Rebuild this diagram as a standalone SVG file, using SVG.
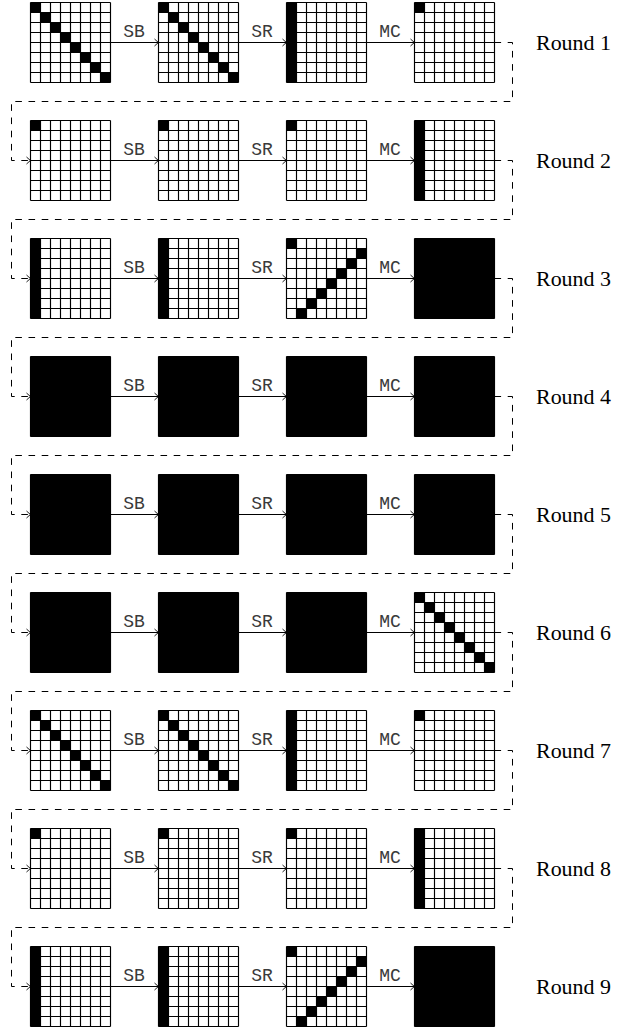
<svg xmlns="http://www.w3.org/2000/svg" xmlns:xlink="http://www.w3.org/1999/xlink" width="627" height="1027" viewBox="0 0 627 1027">
<style>
.gl{fill:none;stroke:#000;stroke-width:1.15}
.f{fill:#000}
.c{fill:none;stroke:#000;stroke-width:1}
.d{stroke-dasharray:6.6 6.6}
.op{font-family:"Liberation Mono","DejaVu Sans Mono",monospace;font-size:18px;fill:#3a3a3a;text-anchor:middle}
.rd{font-family:"Liberation Serif","DejaVu Serif",serif;font-size:20px;fill:#000}
</style>
<defs>
<path id="grid" class="gl" d="M0 0H80M0 10H80M0 20H80M0 30H80M0 40H80M0 50H80M0 60H80M0 70H80M0 80H80M0 0V80M10 0V80M20 0V80M30 0V80M40 0V80M50 0V80M60 0V80M70 0V80M80 0V80"/>
<g id="diag" class="f"><rect x="0" y="0" width="10" height="10"/><rect x="10" y="10" width="10" height="10"/><rect x="20" y="20" width="10" height="10"/><rect x="30" y="30" width="10" height="10"/><rect x="40" y="40" width="10" height="10"/><rect x="50" y="50" width="10" height="10"/><rect x="60" y="60" width="10" height="10"/><rect x="70" y="70" width="10" height="10"/></g>
<g id="anti" class="f"><rect x="0" y="0" width="10" height="10"/><rect x="70" y="10" width="10" height="10"/><rect x="60" y="20" width="10" height="10"/><rect x="50" y="30" width="10" height="10"/><rect x="40" y="40" width="10" height="10"/><rect x="30" y="50" width="10" height="10"/><rect x="20" y="60" width="10" height="10"/><rect x="10" y="70" width="10" height="10"/></g>
<rect id="col" class="f" width="10" height="80"/>
<rect id="cell" class="f" width="10" height="10"/>
<rect id="full" class="f" width="80" height="80"/>
<marker id="ah" markerWidth="9" markerHeight="10" refX="7" refY="5" orient="auto" markerUnits="userSpaceOnUse"><path d="M3,1.5 Q6,4.3 7,5 Q6,5.7 3,8.5" fill="none" stroke="#000" stroke-width="0.9"/></marker>
</defs>

<g id="row1">
<g id="r1g1" transform="translate(30.5,2.5)"><use xlink:href="#diag"/><use xlink:href="#grid"/></g>
<g id="r1g2" transform="translate(158.5,2.5)"><use xlink:href="#diag"/><use xlink:href="#grid"/></g>
<g id="r1g3" transform="translate(286.5,2.5)"><use xlink:href="#col"/><use xlink:href="#grid"/></g>
<g id="r1g4" transform="translate(414.5,2.5)"><use xlink:href="#cell"/><use xlink:href="#grid"/></g>
</g>
<g id="row2">
<g id="r2g1" transform="translate(30.5,120.5)"><use xlink:href="#cell"/><use xlink:href="#grid"/></g>
<g id="r2g2" transform="translate(158.5,120.5)"><use xlink:href="#cell"/><use xlink:href="#grid"/></g>
<g id="r2g3" transform="translate(286.5,120.5)"><use xlink:href="#cell"/><use xlink:href="#grid"/></g>
<g id="r2g4" transform="translate(414.5,120.5)"><use xlink:href="#col"/><use xlink:href="#grid"/></g>
</g>
<g id="row3">
<g id="r3g1" transform="translate(30.5,238.5)"><use xlink:href="#col"/><use xlink:href="#grid"/></g>
<g id="r3g2" transform="translate(158.5,238.5)"><use xlink:href="#col"/><use xlink:href="#grid"/></g>
<g id="r3g3" transform="translate(286.5,238.5)"><use xlink:href="#anti"/><use xlink:href="#grid"/></g>
<g id="r3g4" transform="translate(414.5,238.5)"><use xlink:href="#full"/><use xlink:href="#grid"/></g>
</g>
<g id="row4">
<g id="r4g1" transform="translate(30.5,356.5)"><use xlink:href="#full"/><use xlink:href="#grid"/></g>
<g id="r4g2" transform="translate(158.5,356.5)"><use xlink:href="#full"/><use xlink:href="#grid"/></g>
<g id="r4g3" transform="translate(286.5,356.5)"><use xlink:href="#full"/><use xlink:href="#grid"/></g>
<g id="r4g4" transform="translate(414.5,356.5)"><use xlink:href="#full"/><use xlink:href="#grid"/></g>
</g>
<g id="row5">
<g id="r5g1" transform="translate(30.5,474.5)"><use xlink:href="#full"/><use xlink:href="#grid"/></g>
<g id="r5g2" transform="translate(158.5,474.5)"><use xlink:href="#full"/><use xlink:href="#grid"/></g>
<g id="r5g3" transform="translate(286.5,474.5)"><use xlink:href="#full"/><use xlink:href="#grid"/></g>
<g id="r5g4" transform="translate(414.5,474.5)"><use xlink:href="#full"/><use xlink:href="#grid"/></g>
</g>
<g id="row6">
<g id="r6g1" transform="translate(30.5,592.5)"><use xlink:href="#full"/><use xlink:href="#grid"/></g>
<g id="r6g2" transform="translate(158.5,592.5)"><use xlink:href="#full"/><use xlink:href="#grid"/></g>
<g id="r6g3" transform="translate(286.5,592.5)"><use xlink:href="#full"/><use xlink:href="#grid"/></g>
<g id="r6g4" transform="translate(414.5,592.5)"><use xlink:href="#diag"/><use xlink:href="#grid"/></g>
</g>
<g id="row7">
<g id="r7g1" transform="translate(30.5,710.5)"><use xlink:href="#diag"/><use xlink:href="#grid"/></g>
<g id="r7g2" transform="translate(158.5,710.5)"><use xlink:href="#diag"/><use xlink:href="#grid"/></g>
<g id="r7g3" transform="translate(286.5,710.5)"><use xlink:href="#col"/><use xlink:href="#grid"/></g>
<g id="r7g4" transform="translate(414.5,710.5)"><use xlink:href="#cell"/><use xlink:href="#grid"/></g>
</g>
<g id="row8">
<g id="r8g1" transform="translate(30.5,828.5)"><use xlink:href="#cell"/><use xlink:href="#grid"/></g>
<g id="r8g2" transform="translate(158.5,828.5)"><use xlink:href="#cell"/><use xlink:href="#grid"/></g>
<g id="r8g3" transform="translate(286.5,828.5)"><use xlink:href="#cell"/><use xlink:href="#grid"/></g>
<g id="r8g4" transform="translate(414.5,828.5)"><use xlink:href="#col"/><use xlink:href="#grid"/></g>
</g>
<g id="row9">
<g id="r9g1" transform="translate(30.5,946.5)"><use xlink:href="#col"/><use xlink:href="#grid"/></g>
<g id="r9g2" transform="translate(158.5,946.5)"><use xlink:href="#col"/><use xlink:href="#grid"/></g>
<g id="r9g3" transform="translate(286.5,946.5)"><use xlink:href="#anti"/><use xlink:href="#grid"/></g>
<g id="r9g4" transform="translate(414.5,946.5)"><use xlink:href="#full"/><use xlink:href="#grid"/></g>
</g>

<g id="connectors">
<path class="c" marker-end="url(#ah)" d="M110.5 42.5H158.5"/><path class="c" marker-end="url(#ah)" d="M238.5 42.5H286.5"/><path class="c" marker-end="url(#ah)" d="M366.5 42.5H414.5"/>
<path class="c" marker-end="url(#ah)" d="M110.5 160.5H158.5"/><path class="c" marker-end="url(#ah)" d="M238.5 160.5H286.5"/><path class="c" marker-end="url(#ah)" d="M366.5 160.5H414.5"/>
<path class="c" marker-end="url(#ah)" d="M110.5 278.5H158.5"/><path class="c" marker-end="url(#ah)" d="M238.5 278.5H286.5"/><path class="c" marker-end="url(#ah)" d="M366.5 278.5H414.5"/>
<path class="c" marker-end="url(#ah)" d="M110.5 396.5H158.5"/><path class="c" marker-end="url(#ah)" d="M238.5 396.5H286.5"/><path class="c" marker-end="url(#ah)" d="M366.5 396.5H414.5"/>
<path class="c" marker-end="url(#ah)" d="M110.5 514.5H158.5"/><path class="c" marker-end="url(#ah)" d="M238.5 514.5H286.5"/><path class="c" marker-end="url(#ah)" d="M366.5 514.5H414.5"/>
<path class="c" marker-end="url(#ah)" d="M110.5 632.5H158.5"/><path class="c" marker-end="url(#ah)" d="M238.5 632.5H286.5"/><path class="c" marker-end="url(#ah)" d="M366.5 632.5H414.5"/>
<path class="c" marker-end="url(#ah)" d="M110.5 750.5H158.5"/><path class="c" marker-end="url(#ah)" d="M238.5 750.5H286.5"/><path class="c" marker-end="url(#ah)" d="M366.5 750.5H414.5"/>
<path class="c" marker-end="url(#ah)" d="M110.5 868.5H158.5"/><path class="c" marker-end="url(#ah)" d="M238.5 868.5H286.5"/><path class="c" marker-end="url(#ah)" d="M366.5 868.5H414.5"/>
<path class="c" marker-end="url(#ah)" d="M110.5 986.5H158.5"/><path class="c" marker-end="url(#ah)" d="M238.5 986.5H286.5"/><path class="c" marker-end="url(#ah)" d="M366.5 986.5H414.5"/>
<path class="c d" marker-end="url(#ah)" d="M494.5 42.5H512.5V101.5H11.5V160.5H30.5"/>
<path class="c d" marker-end="url(#ah)" d="M494.5 160.5H512.5V219.5H11.5V278.5H30.5"/>
<path class="c d" marker-end="url(#ah)" d="M494.5 278.5H512.5V337.5H11.5V396.5H30.5"/>
<path class="c d" marker-end="url(#ah)" d="M494.5 396.5H512.5V455.5H11.5V514.5H30.5"/>
<path class="c d" marker-end="url(#ah)" d="M494.5 514.5H512.5V573.5H11.5V632.5H30.5"/>
<path class="c d" marker-end="url(#ah)" d="M494.5 632.5H512.5V691.5H11.5V750.5H30.5"/>
<path class="c d" marker-end="url(#ah)" d="M494.5 750.5H512.5V809.5H11.5V868.5H30.5"/>
<path class="c d" marker-end="url(#ah)" d="M494.5 868.5H512.5V927.5H11.5V986.5H30.5"/>
</g>

<g id="labels">
<text class="op" x="134" y="37">SB</text><text class="op" x="262" y="37">SR</text><text class="op" x="390" y="37">MC</text>
<text class="op" x="134" y="155">SB</text><text class="op" x="262" y="155">SR</text><text class="op" x="390" y="155">MC</text>
<text class="op" x="134" y="273">SB</text><text class="op" x="262" y="273">SR</text><text class="op" x="390" y="273">MC</text>
<text class="op" x="134" y="391">SB</text><text class="op" x="262" y="391">SR</text><text class="op" x="390" y="391">MC</text>
<text class="op" x="134" y="509">SB</text><text class="op" x="262" y="509">SR</text><text class="op" x="390" y="509">MC</text>
<text class="op" x="134" y="627">SB</text><text class="op" x="262" y="627">SR</text><text class="op" x="390" y="627">MC</text>
<text class="op" x="134" y="745">SB</text><text class="op" x="262" y="745">SR</text><text class="op" x="390" y="745">MC</text>
<text class="op" x="134" y="863">SB</text><text class="op" x="262" y="863">SR</text><text class="op" x="390" y="863">MC</text>
<text class="op" x="134" y="981">SB</text><text class="op" x="262" y="981">SR</text><text class="op" x="390" y="981">MC</text>
<text class="rd" x="536" y="50" textLength="75" lengthAdjust="spacingAndGlyphs">Round 1</text>
<text class="rd" x="536" y="168" textLength="75" lengthAdjust="spacingAndGlyphs">Round 2</text>
<text class="rd" x="536" y="286" textLength="75" lengthAdjust="spacingAndGlyphs">Round 3</text>
<text class="rd" x="536" y="404" textLength="75" lengthAdjust="spacingAndGlyphs">Round 4</text>
<text class="rd" x="536" y="522" textLength="75" lengthAdjust="spacingAndGlyphs">Round 5</text>
<text class="rd" x="536" y="640" textLength="75" lengthAdjust="spacingAndGlyphs">Round 6</text>
<text class="rd" x="536" y="758" textLength="75" lengthAdjust="spacingAndGlyphs">Round 7</text>
<text class="rd" x="536" y="876" textLength="75" lengthAdjust="spacingAndGlyphs">Round 8</text>
<text class="rd" x="536" y="994" textLength="75" lengthAdjust="spacingAndGlyphs">Round 9</text>
</g>
</svg>
